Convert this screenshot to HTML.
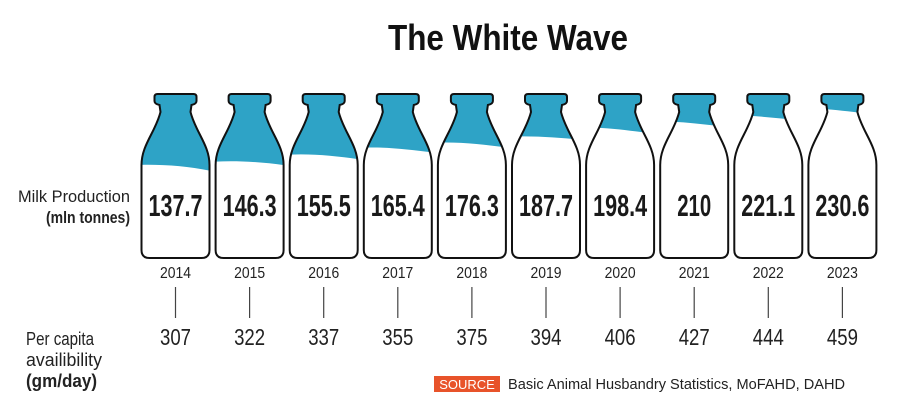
<!DOCTYPE html>
<html><head><style>
body{margin:0;background:#fff;}
svg{display:block;}
text{font-family:"Liberation Sans",sans-serif;}
.n{font-weight:bold;font-size:31px;fill:#1a1a1a;}
.y{font-size:16px;fill:#222;}
.p{font-size:23px;fill:#222;}
</style></head><body>
<svg width="900" height="417" viewBox="0 0 900 417" xmlns="http://www.w3.org/2000/svg">
<defs>
<path id="b" d="M -18,94 H 18 Q 21,94 21,97 V 101 Q 21,104 16,105 L 15,112 C 20,132 34,145 34,165 V 250 Q 34,258 26,258 H -26 Q -34,258 -34,250 V 165 C -34,145 -20,132 -15,112 L -16,105 Q -21,104 -21,101 V 97 Q -21,94 -18,94 Z"/>
<clipPath id="cp"><path d="M -18,94 H 18 Q 21,94 21,97 V 101 Q 21,104 16,105 L 15,112 C 20,132 34,145 34,165 V 250 Q 34,258 26,258 H -26 Q -34,258 -34,250 V 165 C -34,145 -20,132 -15,112 L -16,105 Q -21,104 -21,101 V 97 Q -21,94 -18,94 Z"/></clipPath>
</defs>
<text x="388" y="50" font-weight="bold" font-size="36" fill="#111" textLength="240" lengthAdjust="spacingAndGlyphs">The White Wave</text>
<text x="18" y="202" font-size="17" fill="#222" textLength="112" lengthAdjust="spacingAndGlyphs">Milk Production</text>
<text x="46" y="223" font-size="17" font-weight="bold" fill="#222" textLength="84" lengthAdjust="spacingAndGlyphs">(mln tonnes)</text>
<text x="26" y="345" font-size="18" fill="#222" textLength="68" lengthAdjust="spacingAndGlyphs">Per capita</text>
<text x="26" y="366" font-size="18" fill="#222" textLength="76" lengthAdjust="spacingAndGlyphs">availibility</text>
<text x="26" y="387" font-size="18" font-weight="bold" fill="#222" textLength="71" lengthAdjust="spacingAndGlyphs">(gm/day)</text>

<g transform="translate(175.5,0)"><g clip-path="url(#cp)"><path d="M -40,80 H 40 V 172 C 15,166 -15,164 -40,165 Z" fill="#2ea3c6"/></g><use href="#b" fill="none" stroke="#111" stroke-width="2"/><text class="n" x="-27" y="216" textLength="54" lengthAdjust="spacingAndGlyphs">137.7</text><text class="y" x="-15.5" y="278" textLength="31" lengthAdjust="spacingAndGlyphs">2014</text><line x1="0" y1="287" x2="0" y2="318" stroke="#444" stroke-width="1.2"/><text class="p" x="-15.5" y="345" textLength="31" lengthAdjust="spacingAndGlyphs">307</text></g>
<g transform="translate(249.6,0)"><g clip-path="url(#cp)"><path d="M -40,80 H 40 V 166 C 15,162 -15,160 -40,162 Z" fill="#2ea3c6"/></g><use href="#b" fill="none" stroke="#111" stroke-width="2"/><text class="n" x="-27" y="216" textLength="54" lengthAdjust="spacingAndGlyphs">146.3</text><text class="y" x="-15.5" y="278" textLength="31" lengthAdjust="spacingAndGlyphs">2015</text><line x1="0" y1="287" x2="0" y2="318" stroke="#444" stroke-width="1.2"/><text class="p" x="-15.5" y="345" textLength="31" lengthAdjust="spacingAndGlyphs">322</text></g>
<g transform="translate(323.7,0)"><g clip-path="url(#cp)"><path d="M -40,80 H 40 V 160 C 15,156 -15,153 -40,155 Z" fill="#2ea3c6"/></g><use href="#b" fill="none" stroke="#111" stroke-width="2"/><text class="n" x="-27" y="216" textLength="54" lengthAdjust="spacingAndGlyphs">155.5</text><text class="y" x="-15.5" y="278" textLength="31" lengthAdjust="spacingAndGlyphs">2016</text><line x1="0" y1="287" x2="0" y2="318" stroke="#444" stroke-width="1.2"/><text class="p" x="-15.5" y="345" textLength="31" lengthAdjust="spacingAndGlyphs">337</text></g>
<g transform="translate(397.8,0)"><g clip-path="url(#cp)"><path d="M -40,80 H 40 V 153 C 15,150 -15,146 -40,148 Z" fill="#2ea3c6"/></g><use href="#b" fill="none" stroke="#111" stroke-width="2"/><text class="n" x="-27" y="216" textLength="54" lengthAdjust="spacingAndGlyphs">165.4</text><text class="y" x="-15.5" y="278" textLength="31" lengthAdjust="spacingAndGlyphs">2017</text><line x1="0" y1="287" x2="0" y2="318" stroke="#444" stroke-width="1.2"/><text class="p" x="-15.5" y="345" textLength="31" lengthAdjust="spacingAndGlyphs">355</text></g>
<g transform="translate(471.9,0)"><g clip-path="url(#cp)"><path d="M -40,80 H 40 V 148 C 15,145 -15,141 -40,143 Z" fill="#2ea3c6"/></g><use href="#b" fill="none" stroke="#111" stroke-width="2"/><text class="n" x="-27" y="216" textLength="54" lengthAdjust="spacingAndGlyphs">176.3</text><text class="y" x="-15.5" y="278" textLength="31" lengthAdjust="spacingAndGlyphs">2018</text><line x1="0" y1="287" x2="0" y2="318" stroke="#444" stroke-width="1.2"/><text class="p" x="-15.5" y="345" textLength="31" lengthAdjust="spacingAndGlyphs">375</text></g>
<g transform="translate(546,0)"><g clip-path="url(#cp)"><path d="M -40,80 H 40 V 140 C 15,138 -15,135 -40,137 Z" fill="#2ea3c6"/></g><use href="#b" fill="none" stroke="#111" stroke-width="2"/><text class="n" x="-27" y="216" textLength="54" lengthAdjust="spacingAndGlyphs">187.7</text><text class="y" x="-15.5" y="278" textLength="31" lengthAdjust="spacingAndGlyphs">2019</text><line x1="0" y1="287" x2="0" y2="318" stroke="#444" stroke-width="1.2"/><text class="p" x="-15.5" y="345" textLength="31" lengthAdjust="spacingAndGlyphs">394</text></g>
<g transform="translate(620.1,0)"><g clip-path="url(#cp)"><path d="M -40,80 H 40 V 134 C 15,132 -15,126 -40,128 Z" fill="#2ea3c6"/></g><use href="#b" fill="none" stroke="#111" stroke-width="2"/><text class="n" x="-27" y="216" textLength="54" lengthAdjust="spacingAndGlyphs">198.4</text><text class="y" x="-15.5" y="278" textLength="31" lengthAdjust="spacingAndGlyphs">2020</text><line x1="0" y1="287" x2="0" y2="318" stroke="#444" stroke-width="1.2"/><text class="p" x="-15.5" y="345" textLength="31" lengthAdjust="spacingAndGlyphs">406</text></g>
<g transform="translate(694.2,0)"><g clip-path="url(#cp)"><path d="M -40,80 H 40 V 127 C 15,126 -15,120 -40,122 Z" fill="#2ea3c6"/></g><use href="#b" fill="none" stroke="#111" stroke-width="2"/><text class="n" x="-17" y="216" textLength="34" lengthAdjust="spacingAndGlyphs">210</text><text class="y" x="-15.5" y="278" textLength="31" lengthAdjust="spacingAndGlyphs">2021</text><line x1="0" y1="287" x2="0" y2="318" stroke="#444" stroke-width="1.2"/><text class="p" x="-15.5" y="345" textLength="31" lengthAdjust="spacingAndGlyphs">427</text></g>
<g transform="translate(768.3,0)"><g clip-path="url(#cp)"><path d="M -40,80 H 40 V 120 C 15,120 -15,114 -40,116 Z" fill="#2ea3c6"/></g><use href="#b" fill="none" stroke="#111" stroke-width="2"/><text class="n" x="-27" y="216" textLength="54" lengthAdjust="spacingAndGlyphs">221.1</text><text class="y" x="-15.5" y="278" textLength="31" lengthAdjust="spacingAndGlyphs">2022</text><line x1="0" y1="287" x2="0" y2="318" stroke="#444" stroke-width="1.2"/><text class="p" x="-15.5" y="345" textLength="31" lengthAdjust="spacingAndGlyphs">444</text></g>
<g transform="translate(842.4,0)"><g clip-path="url(#cp)"><path d="M -40,80 H 40 V 114 C 15,114 -15,107 -40,109 Z" fill="#2ea3c6"/></g><use href="#b" fill="none" stroke="#111" stroke-width="2"/><text class="n" x="-27" y="216" textLength="54" lengthAdjust="spacingAndGlyphs">230.6</text><text class="y" x="-15.5" y="278" textLength="31" lengthAdjust="spacingAndGlyphs">2023</text><line x1="0" y1="287" x2="0" y2="318" stroke="#444" stroke-width="1.2"/><text class="p" x="-15.5" y="345" textLength="31" lengthAdjust="spacingAndGlyphs">459</text></g>

<rect x="434" y="376" width="66" height="16" fill="#e8532a"/>
<text x="467" y="389" text-anchor="middle" font-size="13" fill="#fff">SOURCE</text>
<text x="508" y="389" font-size="14.5" fill="#222" textLength="337" lengthAdjust="spacingAndGlyphs">Basic Animal Husbandry Statistics, MoFAHD, DAHD</text>
</svg>
</body></html>
